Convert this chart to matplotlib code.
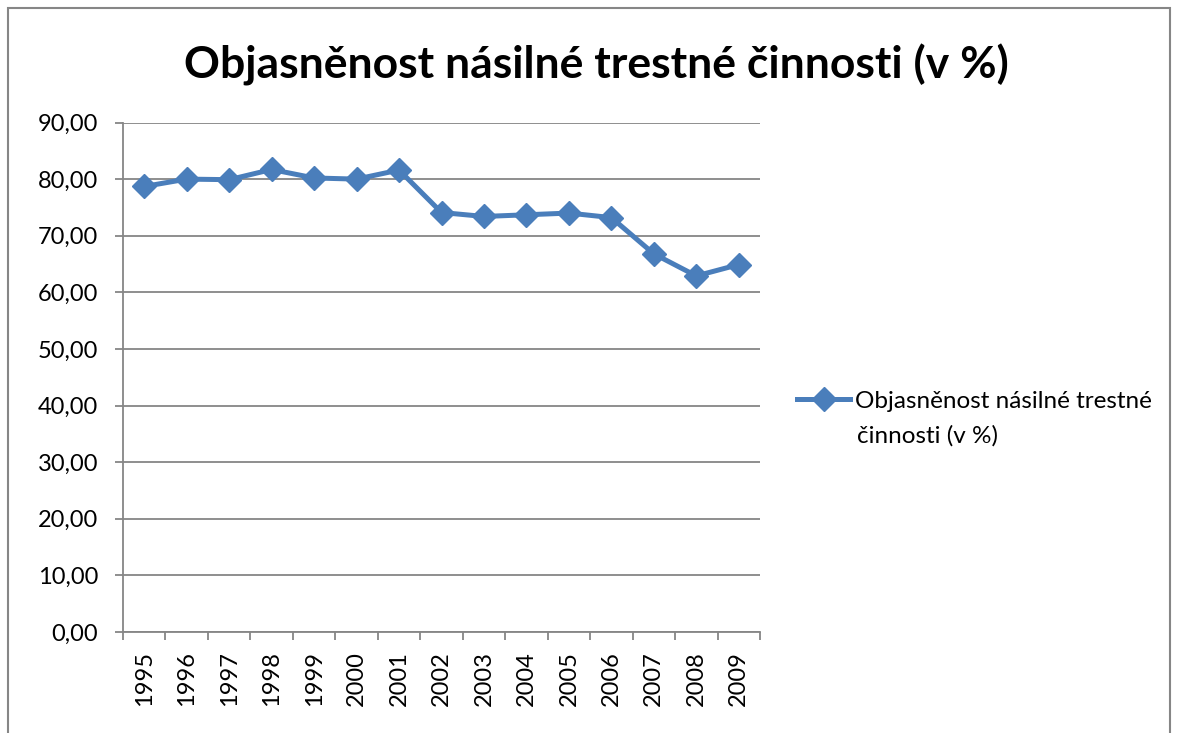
import matplotlib
matplotlib.use("Agg")
import matplotlib.pyplot as plt
from matplotlib.patches import Rectangle
import numpy as np

years = ["1995", "1996", "1997", "1998", "1999", "2000", "2001", "2002",
         "2003", "2004", "2005", "2006", "2007", "2008", "2009"]
values = [78.7, 80.0, 79.9, 81.7, 80.2, 80.0, 81.6, 74.1,
          73.4, 73.7, 74.0, 73.2, 66.8, 62.9, 64.9]
yticks = [0, 10, 20, 30, 40, 50, 60, 70, 80, 90]
ytick_labels = ["0,00", "10,00", "20,00", "30,00", "40,00", "50,00",
                "60,00", "70,00", "80,00", "90,00"]
title = "Objasněnost násilné trestné činnosti (v %)"
legend_line1 = "Objasněnost násilné trestné"
legend_line2 = "činnosti (v %)"

plt.rcParams['font.family'] = ['Lato', 'DejaVu Sans']

W, H = 1178, 733
fig = plt.figure(figsize=(W / 100, H / 100), dpi=100)

# outer chart border
fig.patches.append(Rectangle((8 / W, -0.05), (1170 - 8) / W, 1.05 - 8 / H,
                             transform=fig.transFigure, fill=False,
                             edgecolor="#868686", linewidth=1.5))

ax = fig.add_axes([123 / W, (H - 632) / H, 637 / W, 509.5 / H])
x = np.arange(len(years))
color = "#4A7EBB"
line, = ax.plot(x, values, color=color, linewidth=3.6, marker="D",
                markersize=12, markerfacecolor=color, markeredgecolor=color,
                label=legend_line1, solid_joinstyle="round")

ax.set_xlim(-0.5, len(years) - 0.5)
ax.set_ylim(0, 90)
ax.set_yticks(yticks)
ax.set_yticklabels(ytick_labels, fontsize=17)
ax.yaxis.grid(True, color="#868686", linewidth=1.3)
ax.set_axisbelow(True)

ax.set_xticks(x)
ax.set_xticklabels(years, rotation=90, fontsize=17)
ax.set_xticks(np.arange(-0.5, len(years)), minor=True)
ax.tick_params(axis="x", which="major", length=0, pad=14)
ax.tick_params(axis="x", which="minor", length=6, color="#868686", width=1.3)
ax.tick_params(axis="y", length=6, color="#868686", width=1.3, pad=12)

for s in ["top", "right"]:
    ax.spines[s].set_visible(False)
for s in ["left", "bottom"]:
    ax.spines[s].set_color("#868686")
    ax.spines[s].set_linewidth(1.3)

fig.text(596 / W, 1 - 65 / H, title, ha="center", va="center",
         fontsize=32, fontweight="bold")

leg = fig.legend(handles=[line], loc="center left",
                 bbox_to_anchor=(797 / W, 1 - 401 / H), frameon=False,
                 fontsize=17.5, handlelength=2.2, handletextpad=0.2,
                 borderpad=0, borderaxespad=0)
fig.text(857 / W, 1 - 436 / H, legend_line2, ha="left", va="center",
         fontsize=17.5)

fig.savefig("out.png", dpi=100)
